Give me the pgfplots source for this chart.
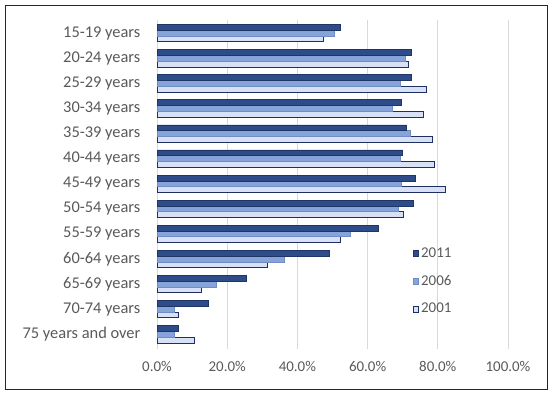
\documentclass[border=0pt]{standalone}
\usepackage{fontspec}
\setmainfont{Carlito}
\usepackage{pgfplots}
\pgfplotsset{compat=1.18}
\definecolor{cA}{HTML}{2E4B8A}
\definecolor{cAd}{HTML}{1F3566}
\definecolor{cB}{HTML}{86A3DA}
\definecolor{cBd}{HTML}{6F8CC4}
\definecolor{cC}{HTML}{D7E0F4}
\definecolor{cCd}{HTML}{1F2F5F}
\definecolor{txt}{HTML}{595959}
\definecolor{grd}{HTML}{D9D9D9}
\begin{document}
\begin{tikzpicture}[x=1pt,y=1pt]
\useasboundingbox (0,0) rectangle (416.25,294.75);
\draw[black!85, line width=0.8pt] (4.3,2.8) rectangle (410.8,290.5);
\begin{axis}[
  at={(117.75pt,33pt)}, anchor=south west,
  scale only axis, width=263.25pt, height=247.1pt,
  xmin=0, xmax=100, ymin=-0.54, ymax=12.59, y dir=reverse,
  xbar=0pt, bar width=4.3pt,
  ytick={0,...,12},
  yticklabels={15-19 years,20-24 years,25-29 years,30-34 years,35-39 years,40-44 years,45-49 years,50-54 years,55-59 years,60-64 years,65-69 years,70-74 years,75 years and over},
  xtick={0,20,40,60,80,100},
  xticklabel={\pgfmathprintnumber[fixed,fixed zerofill,precision=1,assume math mode=true]{\tick}\%},
  xmajorgrids, grid style={grd, line width=0.6pt},
  axis line style={draw=none},
  tick style={draw=none}, major tick length=0pt,
  yticklabel style={font=\fontsize{12.3}{14}\selectfont, text=txt, xshift=-9pt},
  xticklabel style={font=\fontsize{11.2}{13}\selectfont, text=txt, yshift=-6pt},
  legend style={at={(0.716,0.325)}, anchor=north west, draw=none, fill=none,
    font=\fontsize{11.2}{13}\selectfont, text=txt, row sep=8pt,
    /tikz/every even column/.append style={column sep=2pt}},
  legend cell align=left, reverse legend,
  legend image code/.code={\draw[#1, line width=0.4pt] (0pt,-2pt) rectangle (4pt,2pt);},
]
\addplot[fill=cC, draw=cCd, line width=0.4pt] coordinates {
(47.4,0) (71.6,1) (76.8,2) (75.9,3) (78.5,4) (79.0,5) (82.1,6) (70.2,7) (52.3,8) (31.5,9) (12.7,10) (6.2,11) (10.7,12)};
\addlegendentry{2001}
\addplot[fill=cB, draw=cBd, line width=0.4pt] coordinates {
(50.4,0) (70.7,1) (69.4,2) (67.0,3) (72.1,4) (69.4,5) (69.5,6) (68.8,7) (55.0,8) (36.2,9) (17.0,10) (4.9,11) (5.0,12)};
\addlegendentry{2006}
\addplot[fill=cA, draw=cAd, line width=0.4pt] coordinates {
(52.3,0) (72.5,1) (72.3,2) (69.7,3) (70.9,4) (70.0,5) (73.5,6) (72.9,7) (62.9,8) (49.0,9) (25.3,10) (14.5,11) (6.0,12)};
\addlegendentry{2011}
\end{axis}
\end{tikzpicture}
\end{document}
